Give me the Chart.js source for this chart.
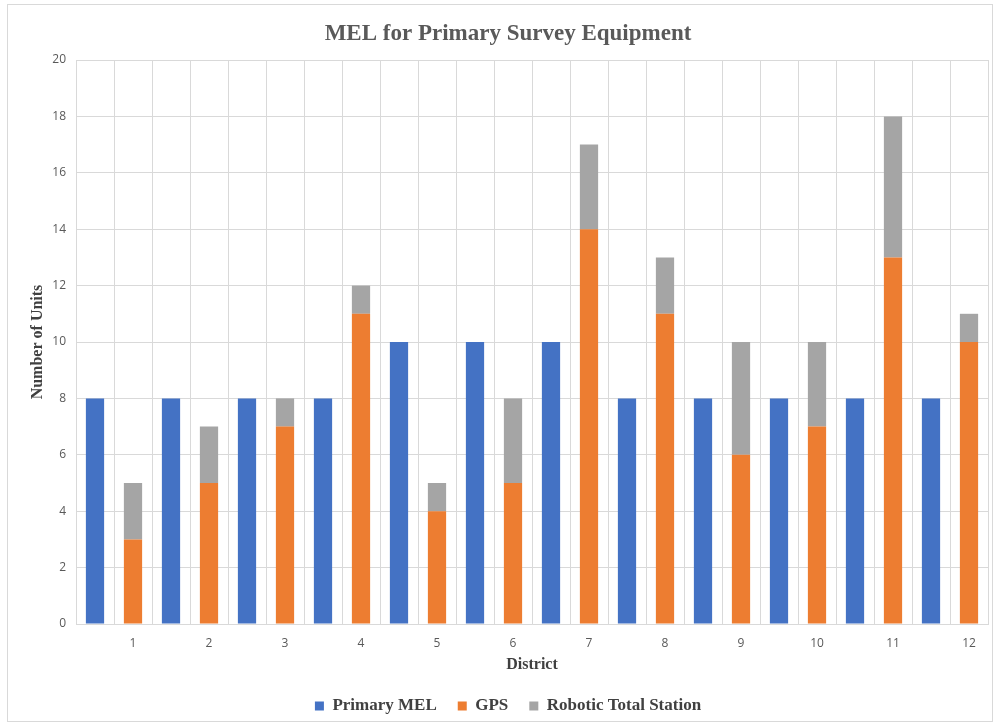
<!DOCTYPE html>
<html>
<head>
<meta charset="utf-8">
<title>MEL for Primary Survey Equipment</title>
<script src="https://cdn.jsdelivr.net/npm/chart.js@4.4.1/dist/chart.umd.min.js"></script>
<style>
  html, body { margin: 0; padding: 0; background: #fff; }
  #frame {
    position: absolute;
    left: 7px; top: 4px;
    width: 984px; height: 716px;
    border: 1px solid #d9d9d9;
  }
  #chart { display: block; }
</style>
</head>
<body>
<div id="frame"><canvas id="chart" width="984" height="716"></canvas></div>
<script>
// each district gets two slots: Primary MEL, then GPS + Robotic Total Station stacked
const districts = ["1", "2", "3", "4", "5", "6", "7", "8", "9", "10", "11", "12"];
const primaryMel = [8, 8, 8, 8, 10, 10, 10, 8, 8, 8, 8, 8];
const gps = [3, 5, 7, 11, 4, 5, 14, 11, 6, 7, 13, 10];
const robotic = [2, 2, 1, 1, 1, 3, 3, 2, 4, 3, 5, 1];

const serif = "'Liberation Serif', 'DejaVu Serif', serif";
const sans = "'Open Sans', 'Noto Sans', sans-serif";

const labels = [];
const melSlots = [];
const gpsSlots = [];
const rtsSlots = [];
districts.forEach((d, i) => {
  labels.push("");
  melSlots.push(primaryMel[i]);
  gpsSlots.push(null);
  rtsSlots.push(null);

  labels.push(d);
  melSlots.push(null);
  gpsSlots.push(gps[i]);
  rtsSlots.push(robotic[i]);
});

const barStyle = {
  barPercentage: 0.48,
  categoryPercentage: 1,
  borderWidth: 0,
  stack: "units"
};

new Chart(document.getElementById("chart"), {
  type: "bar",
  data: {
    labels: labels,
    datasets: [
      { label: "Primary MEL", data: melSlots, backgroundColor: "#4472C4", ...barStyle },
      { label: "GPS", data: gpsSlots, backgroundColor: "#ED7D31", ...barStyle },
      { label: "Robotic Total Station", data: rtsSlots, backgroundColor: "#A5A5A5", ...barStyle }
    ]
  },
  options: {
    responsive: false,
    animation: false,
    // left padding pushes title/legend centre a bit right, like the original
    // small negative bottom padding: legend sits close to the frame edge
    layout: { padding: { left: 20, right: 4, top: 0, bottom: -3.5 } },
    plugins: {
      title: {
        display: true,
        text: "MEL for Primary Survey Equipment",
        color: "#595959",
        font: { family: serif, size: 23, weight: "bold" },
        padding: { top: 15.3, bottom: 12.1 }
      },
      legend: {
        position: "bottom",
        labels: {
          color: "#404040",
          font: { family: serif, size: 17, weight: "bold" },
          boxWidth: 9,
          boxHeight: 9,
          padding: 21
        }
      },
      tooltip: { enabled: false }
    },
    scales: {
      x: {
        stacked: true,
        grid: { color: "#d9d9d9", drawTicks: false },
        border: { color: "#d9d9d9" },
        ticks: {
          color: "#595959",
          font: { family: sans, size: 12 },
          padding: 12,
          autoSkip: false,
          maxRotation: 0
        },
        title: {
          display: true,
          text: "District",
          color: "#404040",
          font: { family: serif, size: 16, weight: "bold" },
          padding: { top: 0, bottom: 2 }
        },
        afterFit: scale => { scale.height = 52.5; }
      },
      y: {
        stacked: true,
        min: 0,
        max: 20,
        grid: { color: "#d9d9d9", drawTicks: false },
        border: { color: "#d9d9d9" },
        ticks: {
          stepSize: 2,
          color: "#595959",
          font: { family: sans, size: 12 },
          padding: 10
        },
        title: {
          display: true,
          text: "Number of Units",
          color: "#404040",
          font: { family: serif, size: 16, weight: "bold" },
          padding: { top: 0, bottom: 0 }
        },
        afterFit: scale => { scale.width = 48; }
      }
    }
  }
});
</script>
</body>
</html>
